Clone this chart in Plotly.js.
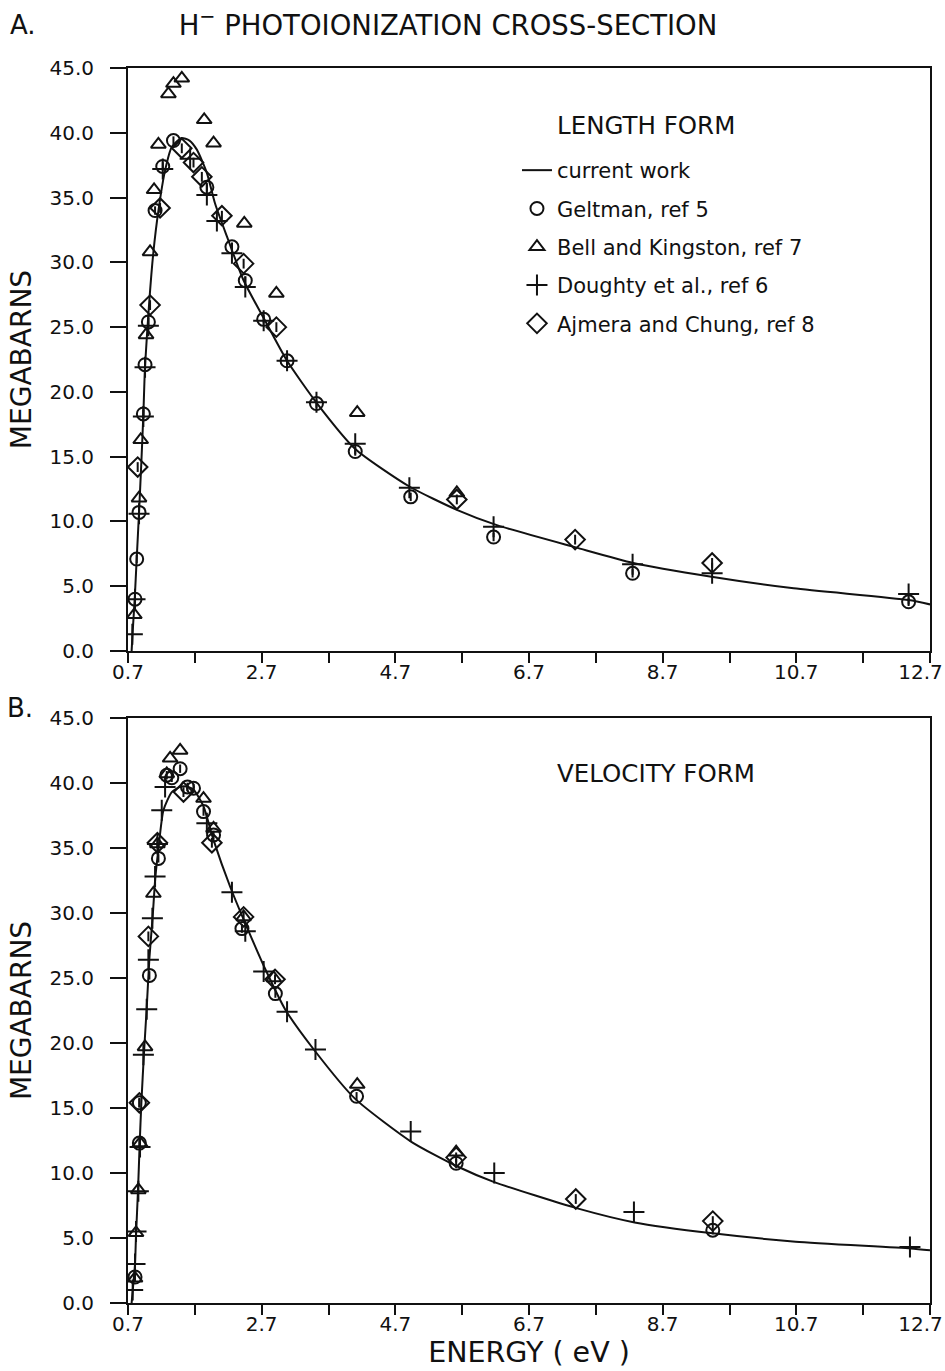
<!DOCTYPE html>
<html><head><meta charset="utf-8">
<script src="https://cdn.plot.ly/plotly-3.0.1.min.js"></script>
<style>body{margin:0;background:#fff}</style>
</head><body><div id="chart" style="width:945px;height:1371px"></div>
<script>
// ---------- Panel A : length form ----------
const curveA_E = [0.754, 0.77, 0.80, 0.83, 0.865, 0.90, 0.93, 0.955, 1.02, 1.08, 1.155, 1.255, 1.355, 1.50, 1.62, 1.73, 1.88, 2.005, 2.18, 2.43, 2.73, 3.08, 3.53, 4.1, 4.91, 5.62, 6.23, 7.40, 8.26, 9.43, 10.66, 12.38, 12.7];
const curveA_S = [0, 1.5, 4.0, 7.1, 10.7, 14.6, 18.3, 22.0, 27.1, 30.8, 34.0, 37.1, 38.9, 39.6, 39.4, 38.7, 36.9, 34.5, 32.0, 28.6, 25.7, 22.4, 19.1, 15.6, 12.7, 10.9, 9.7, 8.0, 6.8, 5.74, 4.84, 3.94, 3.6];

const geltA_E = [0.805, 0.83, 0.865, 0.93, 0.955, 1.005, 1.105, 1.22, 1.38, 1.88, 2.255, 2.455, 2.73, 3.08, 3.52, 4.10, 4.93, 6.17, 8.25, 12.38];
const geltA_S = [4.0, 7.1, 10.7, 18.3, 22.1, 25.4, 34.0, 37.4, 39.4, 35.8, 31.2, 28.6, 25.6, 22.4, 19.1, 15.4, 11.9, 8.8, 6.0, 3.8];

const bellA_E = [0.795, 0.865, 0.89, 0.97, 1.03, 1.09, 1.155, 1.305, 1.38, 1.505, 1.84, 1.98, 2.44, 2.92, 4.13, 5.62];
const bellA_S = [2.8, 11.8, 16.3, 24.4, 30.8, 35.6, 39.1, 43.0, 43.8, 44.2, 41.0, 39.2, 33.0, 27.6, 18.4, 12.2];

const dougA_E = [0.765, 0.805, 0.865, 0.93, 0.955, 1.005, 1.22, 1.63, 1.88, 2.03, 2.255, 2.455, 2.73, 3.08, 3.52, 4.10, 4.91, 6.17, 8.25, 9.44, 12.38];
const dougA_S = [1.3, 4.0, 10.6, 18.1, 21.9, 25.1, 37.2, 38.0, 35.2, 33.2, 30.7, 28.1, 25.5, 22.4, 19.2, 16.0, 12.6, 9.6, 6.7, 6.0, 4.4];

const ajmA_E = [0.845, 1.03, 1.18, 1.505, 1.68, 1.805, 2.105, 2.43, 2.92, 5.62, 7.39, 9.44];
const ajmA_S = [14.2, 26.7, 34.2, 38.8, 37.7, 36.6, 33.6, 29.9, 25.0, 11.7, 8.6, 6.8];

// ---------- Panel B : velocity form ----------
const curveB_E = [0.754, 0.78, 0.805, 0.82, 0.85, 0.875, 0.90, 0.94, 0.98, 1.02, 1.07, 1.11, 1.155, 1.23, 1.355, 1.48, 1.6, 1.68, 1.83, 1.98, 2.23, 2.48, 2.78, 3.05, 3.48, 4.1, 4.94, 5.63, 6.18, 7.41, 8.28, 9.45, 10.69, 12.41, 12.7];
const curveB_S = [0, 1.5, 3.0, 5.2, 8.7, 12.3, 15.4, 19.3, 22.7, 26.5, 29.8, 32.8, 34.9, 37.9, 39.3, 39.7, 39.7, 39.5, 38.2, 35.6, 32.0, 28.9, 25.4, 22.6, 19.5, 15.7, 12.4, 10.5, 9.3, 7.3, 6.2, 5.36, 4.72, 4.2, 4.05];

const geltB_E = [0.805, 0.87, 0.87, 1.02, 1.155, 1.28, 1.355, 1.48, 1.59, 1.68, 1.83, 1.98, 2.405, 2.905, 4.12, 5.61, 9.45];
const geltB_S = [2.0, 12.3, 15.4, 25.2, 34.2, 40.6, 40.4, 41.1, 39.7, 39.6, 37.8, 36.0, 28.8, 23.8, 15.9, 10.75, 5.6];

const bellB_E = [0.805, 0.82, 0.855, 0.88, 0.955, 1.08, 1.14, 1.28, 1.33, 1.48, 1.83, 1.98, 2.43, 2.88, 4.13, 5.61];
const bellB_S = [1.9, 5.4, 8.7, 12.3, 19.7, 31.5, 35.3, 40.7, 41.9, 42.5, 38.8, 36.5, 29.7, 25.0, 16.8, 11.6];

const dougB_E = [0.77, 0.805, 0.82, 0.855, 0.88, 0.93, 0.98, 1.005, 1.065, 1.105, 1.14, 1.205, 1.255, 1.88, 2.255, 2.455, 2.73, 3.08, 3.505, 4.93, 6.18, 8.27, 12.40];
const dougB_S = [1.0, 3.0, 5.5, 8.6, 12.0, 19.1, 22.6, 26.4, 29.6, 32.8, 35.3, 37.9, 39.7, 36.9, 31.6, 28.6, 25.5, 22.4, 19.5, 13.2, 10.0, 7.0, 4.3];

const ajmB_E = [0.87, 1.005, 1.14, 1.53, 1.955, 2.43, 2.9, 5.61, 7.40, 9.45];
const ajmB_S = [15.4, 28.2, 35.4, 39.3, 35.4, 29.7, 24.9, 11.2, 8.0, 6.3];

const seriesNames = ['current work', 'Geltman, ref 5', 'Bell and Kingston, ref 7', 'Doughty et al., ref 6', 'Ajmera and Chung, ref 8'];
const xTicks = [0.7, 2.7, 4.7, 6.7, 8.7, 10.7, 12.7];
const xTickText = ['0.7', '2.7', '4.7', '6.7', '8.7', '10.7', '12.7&nbsp;&nbsp;&nbsp;'];

const FONT = '"DejaVu Sans", sans-serif';
const BLACK = '#111';

function markers(x, y, sym, size, name, xa, ya, show, grp) {
  return {x: x, y: y, type: 'scatter', mode: 'markers', name: name, xaxis: xa, yaxis: ya,
    showlegend: show, legendgroup: grp,
    marker: {symbol: sym, size: size, color: BLACK, line: {color: BLACK, width: 2}}};
}
function curve(x, y, xa, ya, show) {
  return {x: x, y: y, type: 'scatter', mode: 'lines', name: seriesNames[0], xaxis: xa, yaxis: ya,
    showlegend: show, legendgroup: 'g0',
    line: {color: BLACK, width: 2, shape: 'spline', smoothing: 0.6}};
}

const traces = [
  curve(curveA_E, curveA_S, 'x', 'y', true),
  markers(geltA_E, geltA_S, 'circle-open', 13, seriesNames[1], 'x', 'y', true, 'g1'),
  markers(bellA_E, bellA_S, 'triangle-up-open', 13, seriesNames[2], 'x', 'y', true, 'g2'),
  markers(dougA_E, dougA_S, 'cross-thin-open', 15, seriesNames[3], 'x', 'y', true, 'g3'),
  markers(ajmA_E, ajmA_S, 'diamond-open', 15, seriesNames[4], 'x', 'y', true, 'g4'),
  markers(geltA_E, geltA_S, 'line-ns-open', 6, seriesNames[1], 'x', 'y', false, 'g1'),
  markers(ajmA_E, ajmA_S, 'line-ns-open', 7, seriesNames[4], 'x', 'y', false, 'g4'),
  curve(curveB_E, curveB_S, 'x2', 'y2', false),
  markers(geltB_E, geltB_S, 'circle-open', 13, seriesNames[1], 'x2', 'y2', false, 'g1'),
  markers(bellB_E, bellB_S, 'triangle-up-open', 13, seriesNames[2], 'x2', 'y2', false, 'g2'),
  markers(dougB_E, dougB_S, 'cross-thin-open', 15, seriesNames[3], 'x2', 'y2', false, 'g3'),
  markers(ajmB_E, ajmB_S, 'diamond-open', 15, seriesNames[4], 'x2', 'y2', false, 'g4'),
  markers(geltB_E, geltB_S, 'line-ns-open', 6, seriesNames[1], 'x2', 'y2', false, 'g1'),
  markers(ajmB_E, ajmB_S, 'line-ns-open', 7, seriesNames[4], 'x2', 'y2', false, 'g4')
];

function xaxis(domainAnchor, withTitle) {
  const a = {anchor: domainAnchor, range: [0.7, 12.7], tickvals: xTicks, ticktext: xTickText,
    ticks: 'outside', ticklen: 10, tickwidth: 2, tickcolor: BLACK, ticklabelstandoff: -8, ticklabeloverflow: 'allow',
    minor: {dtick: 1, tick0: 0.7, ticks: 'outside', ticklen: 10, tickwidth: 2, tickcolor: BLACK, showgrid: false},
    showline: true, linewidth: 2, linecolor: BLACK, mirror: true, showgrid: false, zeroline: false,
    tickfont: {family: FONT, size: 20, color: BLACK}, fixedrange: true};
  if (withTitle) a.title = {text: 'ENERGY ( eV )', font: {family: FONT, size: 28.5, color: BLACK}, standoff: 6};
  return a;
}
function yaxis(domain, anchor) {
  return {domain: domain, anchor: anchor, range: [0, 45], dtick: 5, tick0: 0, tickformat: '.1f',
    ticks: 'outside', ticklen: 16, tickwidth: 2, tickcolor: BLACK, ticklabelstandoff: 12,
    showline: true, linewidth: 2, linecolor: BLACK, mirror: true, showgrid: false, zeroline: false,
    tickfont: {family: FONT, size: 20, color: BLACK},
    title: {text: 'MEGABARNS', font: {family: FONT, size: 28, color: BLACK}, standoff: 10}, fixedrange: true};
}

const layout = {
  width: 945, height: 1371,
  margin: {l: 128, r: 15, t: 68, b: 68},
  paper_bgcolor: '#fff', plot_bgcolor: '#fff',
  title: {text: 'H<sup>−</sup> PHOTOIONIZATION CROSS-SECTION', font: {family: FONT, size: 27.5, color: BLACK},
    xref: 'paper', x: 0.399, xanchor: 'center', yref: 'container', y: 0.9818, yanchor: 'middle'},
  xaxis: xaxis('y', false),
  yaxis: yaxis([0.5279, 1], 'x'),
  xaxis2: xaxis('y2', true),
  yaxis2: yaxis([0, 0.4737], 'x2'),
  showlegend: true,
  legend: {x: 0.485, y: 0.9336, xanchor: 'left', yanchor: 'top', bgcolor: 'rgba(0,0,0,0)',
    font: {family: FONT, size: 21, color: BLACK}, traceorder: 'grouped', tracegroupgap: 8, itemwidth: 30},
  annotations: [
    {text: 'A.', xref: 'paper', yref: 'paper', x: -0.15, y: 1.0348, xanchor: 'left', yanchor: 'middle', showarrow: false,
      font: {family: FONT, size: 26, color: BLACK}},
    {text: 'B.', xref: 'paper', yref: 'paper', x: -0.153, y: 0.4815, xanchor: 'left', yanchor: 'middle', showarrow: false,
      font: {family: FONT, size: 26, color: BLACK}},
    {text: 'LENGTH FORM', xref: 'paper', yref: 'paper', x: 0.532, y: 0.9538, xanchor: 'left', yanchor: 'middle', showarrow: false,
      font: {family: FONT, size: 24.5, color: BLACK}},
    {text: 'VELOCITY FORM', xref: 'paper', yref: 'paper', x: 0.532, y: 0.4291, xanchor: 'left', yanchor: 'middle', showarrow: false,
      font: {family: FONT, size: 24.5, color: BLACK}}
  ]
};

Plotly.newPlot('chart', traces, layout, {displayModeBar: false, staticPlot: true});
</script></body></html>
